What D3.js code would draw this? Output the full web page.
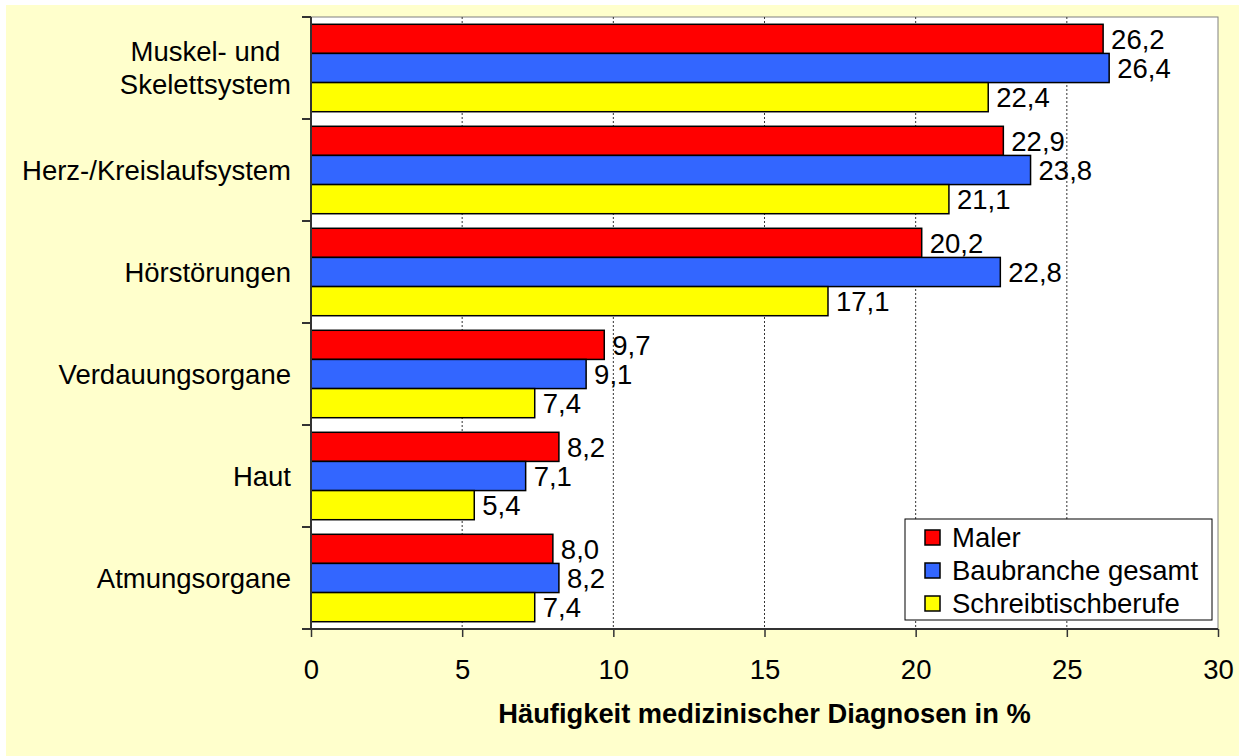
<!DOCTYPE html>
<html>
<head>
  <meta charset="utf-8">
  <title>Häufigkeit medizinischer Diagnosen</title>
  <style>
    html, body { margin: 0; padding: 0; background: #fff; }
    svg { display: block; }
  </style>
</head>
<body>
  <div class="container"></div>

  <script src="https://d3js.org/d3.v7.min.js"></script>
  <script>
    // data
    var categories = [["Muskel- und", "Skelettsystem"], ["Herz-/Kreislaufsystem"], ["Hörstörungen"],
                      ["Verdauungsorgane"], ["Haut"], ["Atmungsorgane"]];
    var seriesNames = ["Maler", "Baubranche gesamt", "Schreibtischberufe"];
    var maler = [26.2, 22.9, 20.2, 9.7, 8.2, 8.0];
    var baubranche = [26.4, 23.8, 22.8, 9.1, 7.1, 8.2];
    var schreibtisch = [22.4, 21.1, 17.1, 7.4, 5.4, 7.4];
    var xTicks = [0, 5, 10, 15, 20, 25, 30];
    var colors = ["#ff0000", "#3366ff", "#ffff00"];

    var W = 1239, H = 756;
    var margin = {top: 17, right: 21, bottom: 127, left: 311},
        width = W - margin.left - margin.right,
        height = H - margin.top - margin.bottom;
    var font = "'Liberation Sans', Arial, sans-serif";
    var fs = 27.5;

    var svg = d3.select(".container").append("svg")
        .attr("width", W).attr("height", H)
        .style("font-family", font);

    // pale yellow chart area
    svg.append("rect").attr("x", 6).attr("y", 5).attr("width", W - 6).attr("height", H - 5)
        .attr("fill", "#ffffcc");

    var g = svg.append("g").attr("transform", "translate(" + margin.left + "," + margin.top + ")");

    g.append("rect").attr("width", width).attr("height", height)
        .attr("fill", "#fff").attr("stroke", "#808080").attr("stroke-width", 1);

    var x = d3.scaleLinear().domain([0, 30]).range([0, width]);
    var keys = categories.map(function(d, i) { return i; });
    var y = d3.scaleBand().domain(keys).range([0, height]).paddingInner(0).paddingOuter(0);
    var y1 = d3.scaleBand().domain([0, 1, 2]).range([0, y.bandwidth()]).paddingOuter(0.25).paddingInner(0);

    // dotted grid lines
    g.selectAll(".grid").data(xTicks.slice(1, -1)).enter().append("line")
        .attr("x1", function(d) { return x(d); }).attr("x2", function(d) { return x(d); })
        .attr("y1", 0).attr("y2", height)
        .attr("stroke", "#333").attr("stroke-width", 1).attr("stroke-dasharray", "2,2");

    var series = [maler, baubranche, schreibtisch];
    var rows = [];
    keys.forEach(function(k) {
      series.forEach(function(s, j) { rows.push({cat: k, s: j, v: s[k]}); });
    });

    g.selectAll(".bar").data(rows).enter().append("rect")
        .attr("x", 0)
        .attr("y", function(d) { return y(d.cat) + y1(d.s); })
        .attr("width", function(d) { return x(d.v); })
        .attr("height", y1.bandwidth())
        .attr("fill", function(d) { return colors[d.s]; })
        .attr("stroke", "#000").attr("stroke-width", 1.5);

    g.selectAll(".val").data(rows).enter().append("text")
        .attr("x", function(d) { return x(d.v) + 8; })
        .attr("y", function(d) { return y(d.cat) + y1(d.s) + y1.bandwidth() / 2; })
        .attr("dy", "0.36em")
        .attr("font-size", fs).attr("fill", "#000")
        .text(function(d) { return d.v.toFixed(1).replace(".", ","); });

    // y axis: line + ticks at category boundaries
    var yAxis = g.append("g");
    yAxis.append("line").attr("x1", 0).attr("x2", 0).attr("y1", 0).attr("y2", height)
        .attr("stroke", "#333").attr("stroke-width", 2);
    yAxis.selectAll(".yt").data(keys.concat([keys.length])).enter().append("line")
        .attr("x1", -9).attr("x2", 0)
        .attr("y1", function(d) { return d < keys.length ? y(d) : height; })
        .attr("y2", function(d) { return d < keys.length ? y(d) : height; })
        .attr("stroke", "#333").attr("stroke-width", 2);

    // category labels, multi-line centered, block right-aligned
    var cl = g.selectAll(".cat").data(categories).enter().append("text")
        .attr("text-anchor", "middle")
        .attr("font-size", fs).attr("fill", "#000");
    cl.each(function(lines, i) {
      var t = d3.select(this);
      var cy = y(i) + y.bandwidth() / 2;
      var maxW = 0;
      lines.forEach(function(l, j) {
        var ts = t.append("tspan").attr("y", cy + (j - (lines.length - 1) / 2) * 33).attr("dy", "0.36em").text(l);
        maxW = Math.max(maxW, ts.node().getComputedTextLength());
      });
      t.selectAll("tspan").attr("x", -20 - maxW / 2);
    });

    // x axis
    var xAxis = g.append("g").attr("transform", "translate(0," + height + ")")
        .call(d3.axisBottom(x).tickValues(xTicks).tickSize(8).tickPadding(22).tickFormat(d3.format("d")));
    xAxis.select(".domain").attr("d", "M-9,0H" + width).attr("stroke", "#333").attr("stroke-width", 2);
    xAxis.selectAll(".tick line").attr("stroke", "#333").attr("stroke-width", 1.5);
    xAxis.selectAll(".tick text").attr("font-size", fs).attr("font-family", font).attr("fill", "#000");

    g.append("text")
        .attr("x", width / 2).attr("y", height + 94)
        .attr("text-anchor", "middle")
        .attr("font-size", 27.3).attr("font-weight", "bold").attr("fill", "#000")
        .text("Häufigkeit medizinischer Diagnosen in %");

    // legend
    var lg = svg.append("g").attr("transform", "translate(905,519)");
    lg.append("rect").attr("width", 307).attr("height", 101)
        .attr("fill", "#fff").attr("stroke", "#000").attr("stroke-width", 1);
    var li = lg.selectAll(".li").data(seriesNames).enter().append("g")
        .attr("transform", function(d, i) { return "translate(20," + (18 + i * 33) + ")"; });
    li.append("rect").attr("x", 0).attr("y", -7).attr("width", 15).attr("height", 15)
        .attr("fill", function(d, i) { return colors[i]; })
        .attr("stroke", "#000").attr("stroke-width", 1.5);
    li.append("text").attr("x", 27).attr("dy", "0.36em")
        .attr("font-size", fs).attr("fill", "#000")
        .text(function(d) { return d; });
  </script>
</body>
</html>
